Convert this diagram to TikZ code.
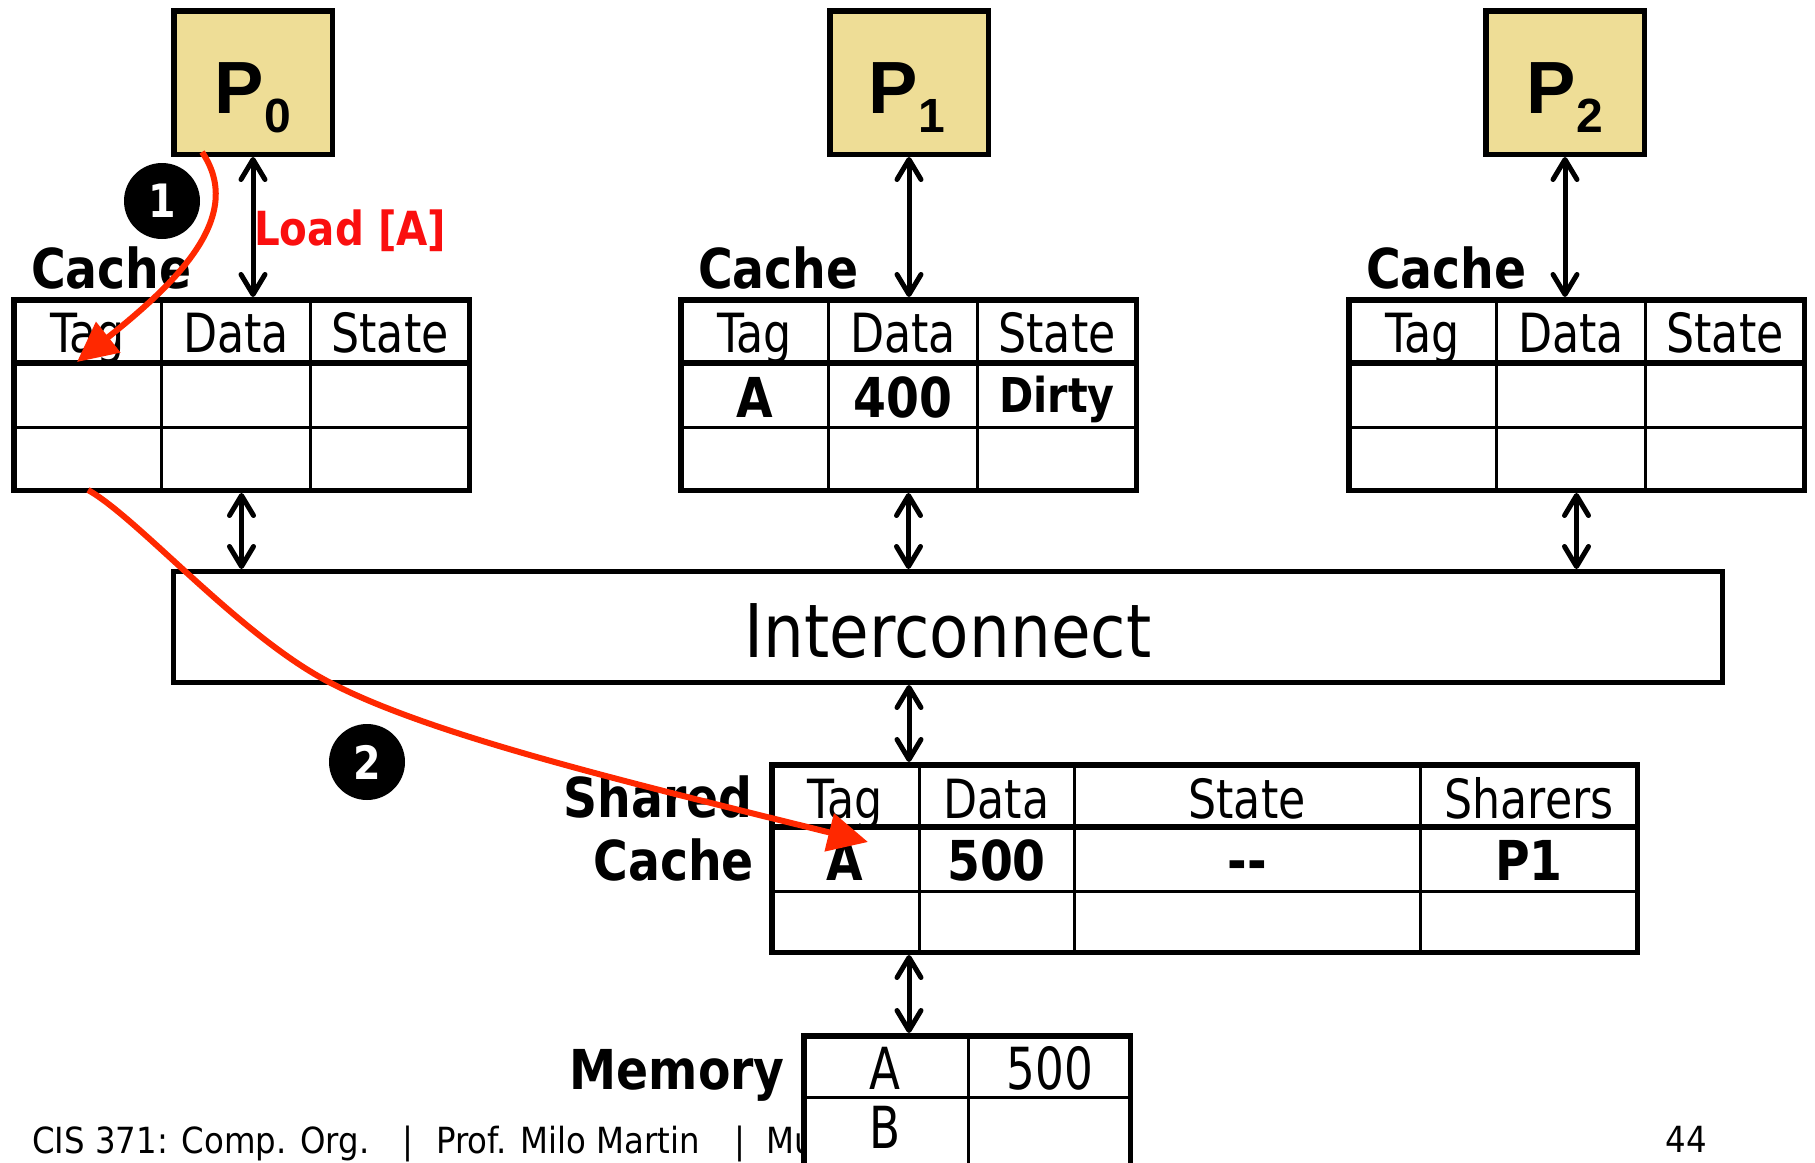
\documentclass[tikz,border=0pt]{standalone}
\usepackage{fontspec}
\usetikzlibrary{arrows.meta}
\newfontfamily\rgf{DejaVu Sans}[FakeStretch=0.82]
\newfontfamily\bdf{DejaVu Sans}[FakeStretch=0.86]
\newfontfamily\icf{DejaVu Sans}[FakeStretch=0.87]
\newfontfamily\memf{DejaVu Sans}[FakeStretch=0.78]
\newfontfamily\ftf{DejaVu Sans}[FakeStretch=0.9]
\newfontfamily\pf{Liberation Sans}
\definecolor{pfill}{RGB}{238,221,150}
\definecolor{lred}{RGB}{250,15,15}
\definecolor{cred}{RGB}{255,40,0}
\newcommand\fsz[1]{\fontsize{#1}{#1}\selectfont}
\newcommand\cachetab[2]{%
\begin{scope}[shift={(#2,0)}]
\node[tbl, minimum width=455.5pt, minimum height=190.5pt] (#1) at (230.5,395) {};
\draw[thinl] (150.5,299) -- (150.5,491);
\draw[thinl] (299,299) -- (299,491);
\draw[thickl] (2,363) -- (459,363);
\draw[thinl] (2,427) -- (459,427);
\node[hdr] (#1-tag) at (76.5,352) {Tag};
\node[hdr] (#1-data) at (225,352) {Data};
\node[hdr] (#1-state) at (379,352) {State};
\node[lbl] (#1-lbl) at (20,288) {Cache};
\end{scope}}
\begin{document}
\begin{tikzpicture}[x=1pt,y=-1pt,
  every node/.style={inner sep=0pt},
  tbl/.style={draw, line width=5.5pt, fill=white, rectangle},
  thinl/.style={line width=3pt},
  thickl/.style={line width=5.5pt},
  hdr/.style={anchor=base, font=\rgf\fsz{54}},
  val/.style={anchor=base, font=\bdf\bfseries\fsz{55}},
  lbl/.style={anchor=base west, font=\bdf\bfseries\fsz{55}},
  rlbl/.style={anchor=base east, font=\bdf\bfseries\fsz{55}},
  memtxt/.style={anchor=base, font=\memf\fsz{58}},
  foot/.style={anchor=base west, font=\ftf\fsz{36}},
  proc/.style={draw, line width=5.5pt, fill=pfill, minimum width=158.5pt, minimum height=143.5pt},
  plab/.style={anchor=base, font=\pf\bfseries\fsz{74}},
  biarrow/.style={line width=5pt, {Straight Barb[length=20pt,width=24pt,round]}-{Straight Barb[length=20pt,width=24pt,round]}},
  redarrow/.style={draw=cred, line width=6pt, -{Triangle[length=40pt,width=38pt,fill=cred]}},
  badge/.style={circle, fill=black, minimum size=76pt, text=white, font=\bdf\bfseries\fsz{46}},
]
\useasboundingbox (0,0) rectangle (1815,1162);
\clip (0,0) rectangle (1815,1162);

% processors
\node[proc] (p0) at (253,82.5) {};
\node[proc] (p1) at (909,82.5) {};
\node[proc] (p2) at (1565,82.5) {};
\node[plab] (p0t) at (253,113) {P\raisebox{-19pt}{\fsz{48}0}};
\node[plab] (p1t) at (907,113) {P\raisebox{-19pt}{\fsz{48}1}};
\node[plab] (p2t) at (1565,113) {P\raisebox{-19pt}{\fsz{48}2}};

% private caches
\cachetab{c0}{11}
\cachetab{c1}{678}
\cachetab{c2}{1346}
\node[val] (c1a) at (755,417) {A};
\node[val] (c1d) at (903,417) {400};
\node[val, font=\bdf\bfseries\fsz{48}] (c1s) at (1057,412) {Dirty};

% interconnect
\node[draw, line width=5pt, minimum width=1549pt, minimum height=111pt] (ic) at (948,627) {};
\node[anchor=base, font=\icf\fsz{74}] (ict) at (948,657) {Interconnect};

% shared cache
\node[tbl, minimum width=865.5pt, minimum height=187.5pt] (sc) at (1204.5,858.5) {};
\draw[thinl] (919,765) -- (919,952);
\draw[thinl] (1074,765) -- (1074,952);
\draw[thinl] (1420,765) -- (1420,952);
\draw[thickl] (772,827) -- (1637,827);
\draw[thinl] (772,891) -- (1637,891);
\node[hdr] (sctag) at (845,818) {Tag};
\node[hdr] (scdata) at (996.5,818) {Data};
\node[hdr] (scstate) at (1247,818) {State};
\node[hdr] (scsh) at (1529,818) {Sharers};
\node[val] (sca) at (845,880) {A};
\node[val] (scd) at (996.5,880) {500};
\node[val] (scs) at (1247,880) {-{}-};
\node[val] (scp) at (1529,880) {P1};
\node[rlbl] (scl1) at (753,817) {Shared};
\node[rlbl] (scl2) at (754,880) {Cache};

% footer
\node[foot] (f1) at (32,1153) {CIS 371: Comp. Org.};
\node[anchor=base, font=\ftf\fsz{36}] (f2) at (408,1153) {|};
\node[foot] (f3) at (436,1153) {Prof. Milo Martin};
\node[anchor=base, font=\ftf\fsz{36}] (f4) at (740,1153) {|};
\node[foot] (f5) at (766,1153) {Mu};
\node[anchor=base, font=\ftf\fsz{36}] (pg) at (1686,1152) {44};

% memory
\node[tbl, minimum width=326.5pt, minimum height=136.5pt] (mem) at (967,1104) {};
\draw[thinl] (968,1036) -- (968,1172);
\draw[thinl] (804,1097) -- (1130,1097);
\node[memtxt] (ma) at (885,1089) {A};
\node[memtxt] (mv) at (1050,1089) {500};
\node[memtxt] (mb) at (885,1148) {B};
\node[rlbl] (meml) at (785,1089) {Memory};

% black connectors
\draw[biarrow] (p0.south) -- (p0.south |- c0.north);
\draw[biarrow] (p1.south) -- (p1.south |- c1.north);
\draw[biarrow] (p2.south) -- (p2.south |- c2.north);
\draw[biarrow] (c0.south) -- (c0.south |- ic.north);
\draw[biarrow] (c1.south) -- (c1.south |- ic.north);
\draw[biarrow] (c2.south) -- (c2.south |- ic.north);
\draw[biarrow] (ic.south -| p1.south) -- (sc.north -| p1.south);
\draw[biarrow] (sc.south -| p1.south) -- (mem.north -| p1.south);

% labels and badges
\node[anchor=base west, font=\bdf\bfseries\fsz{47}, text=lred] (load) at (254,245) {Load [A]};
\node[badge] (b1) at (162,201) {1};
\node[badge] (b2) at (367,762) {2};

% red transaction arrows
\coordinate (r1s) at (202,152);
\coordinate (r1e) at (77,362);
\coordinate (r2s) at (88,490);
\coordinate (r2m) at (327,681);
\coordinate (r2e) at (868,842);
\draw[redarrow] (r1s) .. controls (245,215) and (180,280) .. (r1e);
\draw[redarrow] (r2s) .. controls (138,518) and (237,633) .. (r2m)
                      .. controls (427,734) and (618,780) .. (r2e);
\end{tikzpicture}
\end{document}
